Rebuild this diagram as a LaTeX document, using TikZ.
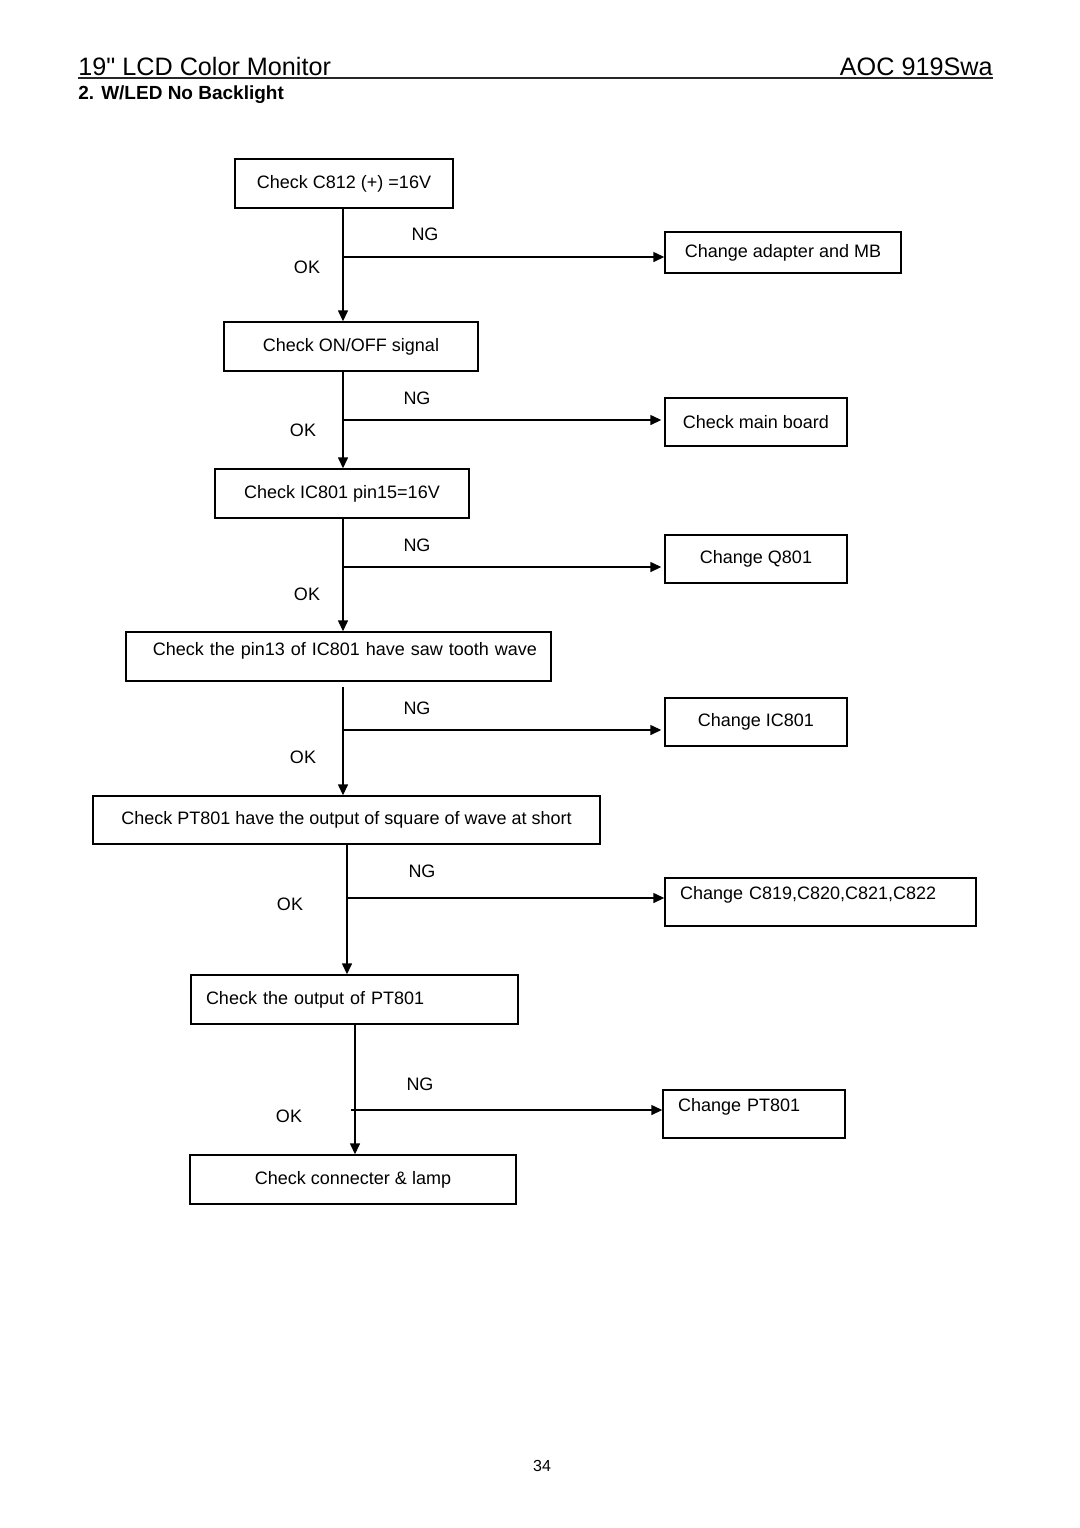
\documentclass[tikz,border=0pt]{standalone}
\usepackage{fontspec}
\setmainfont{Liberation Sans}
\newfontfamily\plainfont{Liberation Sans}
\usetikzlibrary{arrows.meta}

\begin{document}
\begin{tikzpicture}[x=0.5pt, y=-0.5pt, >={Triangle[length=5.5pt,width=5pt]},
  font=\fontsize{9}{11}\selectfont,
  box/.style={draw, line width=0.7pt, inner xsep=7.5pt, inner ysep=0pt, minimum height=24.5pt},
  flow/.style={line width=0.7pt},
  head/.style={inner sep=0pt, font=\fontsize{12.6}{14}\selectfont}]
\useasboundingbox (0,0) rectangle (1080,1528);

\node[head, anchor=base west] (title) at (78,75) {{\plainfont 19"} LCD Color Monitor};
\node[head, anchor=base east] (model) at (993,75) {AOC 919Swa};
\draw [line width=0.8pt, black!85] ([yshift=-1.5pt]title.base west) -- ([yshift=-1.5pt]model.base east);
\node[anchor=base west, inner sep=0pt, font=\bfseries\fontsize{9.5}{11}\selectfont] (sub) at (78,99) {2. W/LED No Backlight};

\node[box, minimum width=109pt] (c1) at (344,183.5) {Check C812 (+) =16V};
\node[box, minimum width=127pt] (c2) at (351,346.5) {Check ON/OFF signal};
\node[box, minimum width=127pt] (c3) at (342,493.5) {Check IC801 pin15=16V};
\node[box, inner xsep=7pt, text width=198.5pt, align=right, text depth=8pt] (c4) at (338.5,656.5) {Check the pin13 of IC801 have saw tooth wave};
\node[box, minimum width=253.5pt, minimum height=24pt] (c5) at (346.5,820) {Check PT801 have the output of square of wave at short};
\node[box, text width=148.5pt, align=left] (c6) at (354.5,999.5) {Check the output of PT801};
\node[box, minimum width=163pt] (c7) at (353,1179.5) {Check connecter \& lamp};

\node[box, minimum width=118pt, minimum height=20.5pt] (r1) at (783,252.5) {Change adapter and MB};
\node[box, minimum width=91pt, minimum height=24pt] (r2) at (756,422) {Check main board};
\node[box, minimum width=91pt, minimum height=24pt] (r3) at (756,559) {Change Q801};
\node[box, minimum width=91pt, minimum height=24pt] (r4) at (756,722) {Change IC801};
\node[box, text width=140.5pt, align=left, minimum height=24pt, text depth=9pt] (r5) at (820.5,902) {Change C819,C820,C821,C822};
\node[box, text width=76pt, align=left, minimum height=24pt, text depth=9pt] (r6) at (754,1114) {Change PT801};

\coordinate (j1) at (343,257);
\coordinate (j2) at (343,420);
\coordinate (j3) at (343,567);
\coordinate (j4) at (343,730);
\coordinate (j5) at (347,898);
\coordinate (j6) at (351,1110);

\draw [flow, ->] (c1.south -| j1) -- (c2.north -| j1);
\draw [flow, ->] (c2.south -| j2) -- (c3.north -| j2);
\draw [flow, ->] (c3.south -| j3) -- (c4.north -| j3);
\draw [flow, ->] ([yshift=-2.5pt]c4.south -| j4) -- (c5.north -| j4);
\draw [flow, ->] (c5.south -| j5) -- (c6.north -| j5);
\draw [flow, ->] (c6.south -| 355,0) -- (c7.north -| 355,0);

\draw [flow, ->] (j1) -- (j1 -| r1.west);
\draw [flow, ->] (j2) -- ([xshift=-1.5pt]j2 -| r2.west);
\draw [flow, ->] (j3) -- ([xshift=-1.5pt]j3 -| r3.west);
\draw [flow, ->] (j4) -- ([xshift=-1.5pt]j4 -| r4.west);
\draw [flow, ->] (j5) -- (j5 -| r5.west);
\draw [flow, ->] (j6) -- (j6 -| r6.west);

\node (ng1) at (425,234) {NG};
\node (ok1) at (307,267) {OK};
\node (ng2) at (417,398) {NG};
\node (ok2) at (303,430) {OK};
\node (ng3) at (417,545) {NG};
\node (ok3) at (307,594) {OK};
\node (ng4) at (417,708) {NG};
\node (ok4) at (303,757) {OK};
\node (ng5) at (422,871) {NG};
\node (ok5) at (290,904) {OK};
\node (ng6) at (420,1084) {NG};
\node (ok6) at (289,1116) {OK};

\node[font=\fontsize{8}{10}\selectfont] (page) at (542,1466) {34};
\end{tikzpicture}
\end{document}
